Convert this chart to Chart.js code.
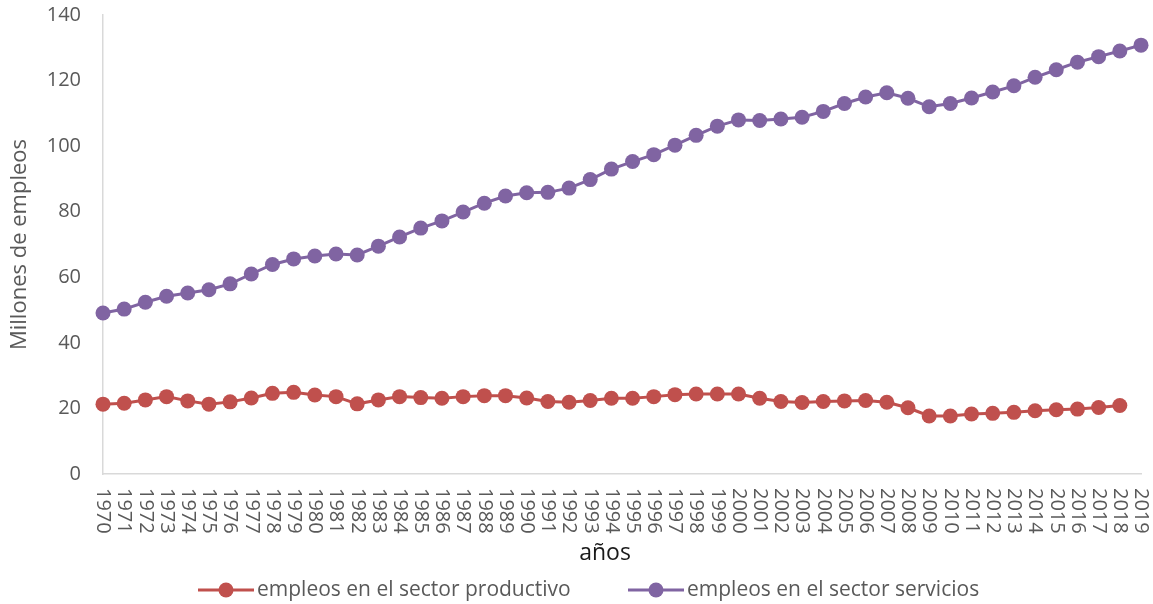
<!DOCTYPE html>
<html>
<head>
<meta charset="utf-8">
<script src="https://cdn.jsdelivr.net/npm/chart.js@4.4.1/dist/chart.umd.min.js"></script>
<style>
  html, body { margin: 0; padding: 0; background: #fff; }
  #wrap { width: 1153px; height: 604px; position: relative; }
</style>
</head>
<body>
<div id="wrap"><canvas id="chart" width="1153" height="604"></canvas></div>
<script>
// data (millones de empleos)
const years = [];
for (let y = 1970; y <= 2019; y++) years.push(String(y));

const productivo = [21.3, 21.6, 22.6, 23.6, 22.3, 21.3, 22.0, 23.2, 24.6, 24.9,
  24.1, 23.6, 21.4, 22.6, 23.6, 23.3, 23.1, 23.6, 23.9, 23.9,
  23.2, 22.1, 21.9, 22.4, 23.1, 23.1, 23.6, 24.2, 24.4, 24.4,
  24.4, 23.1, 22.1, 21.8, 22.1, 22.3, 22.4, 21.9, 20.2, 17.7,
  17.7, 18.3, 18.5, 18.8, 19.3, 19.6, 19.8, 20.3, 20.9];

const servicios = [49.1, 50.3, 52.4, 54.2, 55.2, 56.2, 58.0, 61.0, 63.9, 65.6,
  66.5, 67.1, 66.8, 69.5, 72.3, 75.0, 77.2, 79.9, 82.6, 84.8,
  85.8, 85.9, 87.2, 89.8, 93.0, 95.3, 97.4, 100.3, 103.3, 106.1,
  108.0, 107.8, 108.3, 108.8, 110.6, 113.0, 115.0, 116.3, 114.6, 112.0,
  113.0, 114.7, 116.5, 118.4, 121.0, 123.3, 125.6, 127.3, 129.0, 130.8];

const yTicks = [0, 20, 40, 60, 80, 100, 120, 140];

const RED = '#C0504D', PURPLE = '#8064A2';
const TXT = '#595959', AXIS = '#d9d9d9';
const FONT = "'Open Sans', sans-serif";

// vertical year labels (read top to bottom) + "años" + legend
const extrasPlugin = {
  id: 'extras',
  afterDraw(chart) {
    const ctx = chart.ctx, xs = chart.scales.x, area = chart.chartArea;
    ctx.save();
    ctx.fillStyle = TXT;
    ctx.font = '20px ' + FONT;
    ctx.textAlign = 'left';
    ctx.textBaseline = 'middle';
    years.forEach((lab, i) => {
      const x = xs.getPixelForValue(i);
      ctx.save();
      ctx.translate(x, area.bottom + 14);
      ctx.rotate(Math.PI / 2);
      ctx.fillText(lab, 0, 0);
      ctx.restore();
    });

    ctx.fillStyle = '#1a1a1a';
    ctx.font = '23px ' + FONT;
    ctx.textAlign = 'center';
    ctx.fillText('años', 605, 553);

    // legend
    const items = [
      { label: 'empleos en el sector productivo', color: RED, x: 198 },
      { label: 'empleos en el sector servicios', color: PURPLE, x: 628 }
    ];
    const ly = 590;
    ctx.font = '21px ' + FONT;
    ctx.textAlign = 'left';
    items.forEach(it => {
      ctx.strokeStyle = it.color;
      ctx.lineWidth = 3;
      ctx.beginPath();
      ctx.moveTo(it.x, ly);
      ctx.lineTo(it.x + 56, ly);
      ctx.stroke();
      ctx.fillStyle = it.color;
      ctx.beginPath();
      ctx.arc(it.x + 28, ly, 7.5, 0, Math.PI * 2);
      ctx.fill();
      ctx.fillStyle = TXT;
      ctx.fillText(it.label, it.x + 59, ly);
    });
    ctx.restore();
  }
};

new Chart(document.getElementById('chart'), {
  type: 'line',
  data: {
    labels: years,
    datasets: [
      { label: 'empleos en el sector productivo', data: productivo,
        borderColor: RED, backgroundColor: RED, borderWidth: 3,
        pointRadius: 7.5, pointHoverRadius: 7.5, pointBorderWidth: 0, tension: 0, clip: false },
      { label: 'empleos en el sector servicios', data: servicios,
        borderColor: PURPLE, backgroundColor: PURPLE, borderWidth: 3,
        pointRadius: 7.5, pointHoverRadius: 7.5, pointBorderWidth: 0, tension: 0, clip: false }
    ]
  },
  options: {
    responsive: false,
    animation: false,
    layout: { autoPadding: false, padding: { top: 15, right: 12, left: 7, bottom: 0 } },
    plugins: { legend: { display: false }, tooltip: { enabled: false } },
    scales: {
      x: {
        offset: false,
        grid: { display: false, drawTicks: false },
        border: { color: AXIS, width: 1.5 },
        ticks: { display: false },
        afterFit: s => { s.height = 130; }
      },
      y: {
        min: 0, max: 140,
        afterBuildTicks: s => { s.ticks = yTicks.map(v => ({ value: v })); },
        grid: { display: false, drawTicks: false },
        border: { color: AXIS, width: 1.5 },
        ticks: { color: TXT, font: { family: FONT, size: 20 }, padding: 22 },
        title: { display: true, text: 'Millones de empleos', color: TXT,
                 font: { family: FONT, size: 22 }, padding: { top: 0, bottom: 0 } },
        afterFit: s => { s.width = 96; s.paddingTop = 0; s.paddingBottom = 0; }
      }
    }
  },
  plugins: [extrasPlugin]
});
</script>
</body>
</html>
